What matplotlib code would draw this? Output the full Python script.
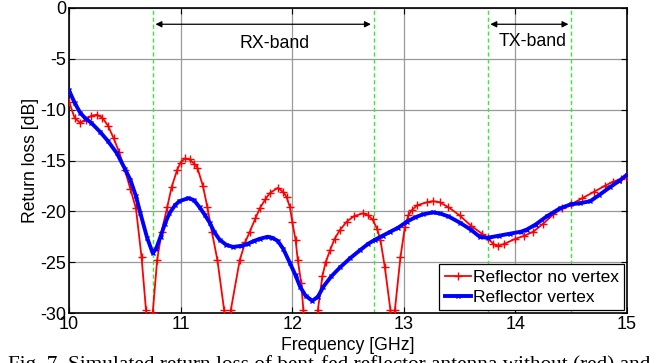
import matplotlib
matplotlib.use("Agg")
import matplotlib.pyplot as plt

# (frequency in GHz, return loss in dB)
f_red = [10.00, 10.05, 10.10, 10.15, 10.20, 10.25, 10.30, 10.35, 10.40, 10.45,
         10.50, 10.55, 10.60, 10.65, 10.69, 10.72, 10.75, 10.79, 10.83, 10.88,
         10.92, 10.97, 11.00, 11.04, 11.08, 11.12, 11.15, 11.20, 11.24, 11.28,
         11.33, 11.39, 11.42, 11.45, 11.53, 11.58, 11.62, 11.67, 11.71, 11.76,
         11.80, 11.87, 11.92, 11.95, 11.98, 12.00, 12.03, 12.05, 12.08, 12.10,
         12.16, 12.23, 12.27, 12.30, 12.34, 12.38, 12.43, 12.49, 12.55, 12.63,
         12.68, 12.72, 12.76, 12.79, 12.83, 12.88, 12.905, 12.92, 12.97, 13.01,
         13.04, 13.07, 13.12, 13.21, 13.26, 13.32, 13.40, 13.50, 13.60, 13.70,
         13.75, 13.80, 13.84, 13.90, 14.00, 14.08, 14.16, 14.25, 14.34, 14.42,
         14.50, 14.60, 14.70, 14.80, 14.87, 14.95, 15.00]
rl_red = [-9.2, -10.8, -11.3, -11.0, -10.6, -10.5, -10.8, -11.6, -12.8, -14.2,
          -15.9, -17.8, -19.7, -24.5, -29.7, -36.0, -30.0, -24.8, -22.0, -19.6,
          -17.6, -15.9, -15.2, -14.8, -14.9, -15.3, -15.7, -17.5, -19.6, -22.0,
          -24.8, -29.7, -36.0, -29.7, -24.8, -23.0, -22.0, -20.7, -19.7, -18.8,
          -18.2, -17.7, -18.1, -18.6, -19.6, -21.0, -22.8, -24.8, -27.0, -29.7,
          -38.0, -29.7, -26.4, -25.0, -23.8, -22.7, -21.8, -21.0, -20.5, -20.2,
          -20.4, -20.8, -21.7, -22.8, -25.5, -29.7, -36.0, -29.7, -24.5, -21.5,
          -20.4, -19.9, -19.4, -19.1, -19.0, -19.1, -19.6, -20.4, -21.4, -22.2,
          -22.6, -23.2, -23.4, -23.2, -22.7, -22.4, -22.0, -21.2, -20.3, -19.7,
          -19.3, -18.7, -18.1, -17.5, -17.1, -16.8, -16.6]

f_blue = [10.00, 10.05, 10.10, 10.15, 10.20, 10.28, 10.35, 10.43, 10.50, 10.55,
          10.60, 10.64, 10.70, 10.75, 10.78, 10.82, 10.86, 10.90, 10.95, 10.99,
          11.07, 11.12, 11.17, 11.22, 11.26, 11.30, 11.35, 11.41, 11.47, 11.54,
          11.60, 11.66, 11.71, 11.78, 11.82, 11.87, 11.92, 11.98, 12.03, 12.07,
          12.12, 12.18, 12.23, 12.28, 12.35, 12.43, 12.52, 12.61, 12.68, 12.74,
          12.81, 12.88, 12.95, 13.03, 13.10, 13.17, 13.26, 13.32, 13.40, 13.50,
          13.60, 13.68, 13.75, 13.85, 13.95, 14.05, 14.10, 14.18, 14.28, 14.40,
          14.50, 14.58, 14.67, 14.75, 14.85, 14.93, 15.00]
rl_blue = [-8.1, -9.3, -10.3, -10.9, -11.3, -12.2, -13.1, -14.3, -15.8, -16.9,
           -18.5, -20.2, -22.6, -24.1, -23.7, -22.5, -21.2, -20.2, -19.4, -19.0,
           -18.7, -18.9, -19.6, -20.4, -21.1, -22.0, -22.8, -23.3, -23.5, -23.4,
           -23.2, -22.9, -22.7, -22.5, -22.6, -22.9, -23.7, -25.1, -26.3, -27.4,
           -28.3, -28.8, -28.4, -27.4, -26.4, -25.5, -24.6, -23.8, -23.2, -22.8,
           -22.4, -22.0, -21.6, -21.0, -20.6, -20.3, -20.1, -20.2, -20.5, -21.1,
           -21.8, -22.5, -22.6, -22.4, -22.2, -22.0, -21.8, -21.3, -20.5, -19.7,
           -19.3, -19.2, -19.0, -18.4, -17.6, -17.0, -16.4]

band_edges = [10.75, 12.73, 13.75, 14.5]
rx_band = (10.75, 12.73)
tx_band = (13.75, 14.5)

plt.rcParams['font.family'] = ['Liberation Sans', 'DejaVu Sans']
plt.rcParams['axes.unicode_minus'] = False

fig = plt.figure(figsize=(6.62, 3.63), dpi=100)
ax = fig.add_axes([0.1042, 0.1377, 0.8430, 0.8403])

ax.plot(f_red, rl_red, color='red', lw=1.3, marker='+', ms=6, mew=1.0,
        label='Reflector no vertex', zorder=3)
ax.plot(f_blue, rl_blue, color='blue', lw=2.8, marker='x', ms=3, mew=1.0,
        label='Reflector vertex', zorder=4)

for fe in band_edges:
    ax.axvline(fe, color='#33ee33', lw=1.0, ls=(0, (3, 2)), zorder=2)

# band arrows
ax.annotate('', xy=(rx_band[0], -1.6), xytext=(rx_band[1], -1.6),
            arrowprops=dict(arrowstyle='<|-|>', color='black', lw=0.9,
                            mutation_scale=9))
ax.annotate('', xy=(tx_band[0], -1.6), xytext=(tx_band[1], -1.6),
            arrowprops=dict(arrowstyle='<|-|>', color='black', lw=0.9,
                            mutation_scale=9))
ax.text(11.84, -3.5, 'RX-band', ha='center', va='center', fontsize=12.8)
ax.text(14.15, -3.3, 'TX-band', ha='center', va='center', fontsize=12.8)

ax.set_xlim(10, 15)
ax.set_ylim(-30, 0)
ax.set_xticks([10, 11, 12, 13, 14, 15])
ax.set_yticks([-30, -25, -20, -15, -10, -5, 0])
ax.tick_params(direction='in', top=True, right=True, labelsize=13,
               length=4, width=0.8, pad=2)
ax.grid(True, color='#999999', lw=0.9)
ax.set_axisbelow(True)
for s in ax.spines.values():
    s.set_linewidth(1.2)

ax.set_xlabel('Frequency [GHz]', fontsize=12.7, labelpad=3)
ax.set_ylabel('Return loss [dB]', fontsize=12.7, labelpad=1)

leg = ax.legend(loc='lower right', fontsize=12.5, fancybox=False,
                edgecolor='black', framealpha=1, borderpad=0.3,
                handlelength=1.5, handletextpad=0.15, labelspacing=0.3,
                borderaxespad=0.15)
leg.get_frame().set_linewidth(0.9)

fig.text(0.012, 0.022, 'Fig. 7. Simulated return loss of bent-fed reflector antenna without (red) and',
         fontsize=15.3, family='Liberation Serif', va='top', ha='left')

fig.savefig('out.png', dpi=100)
